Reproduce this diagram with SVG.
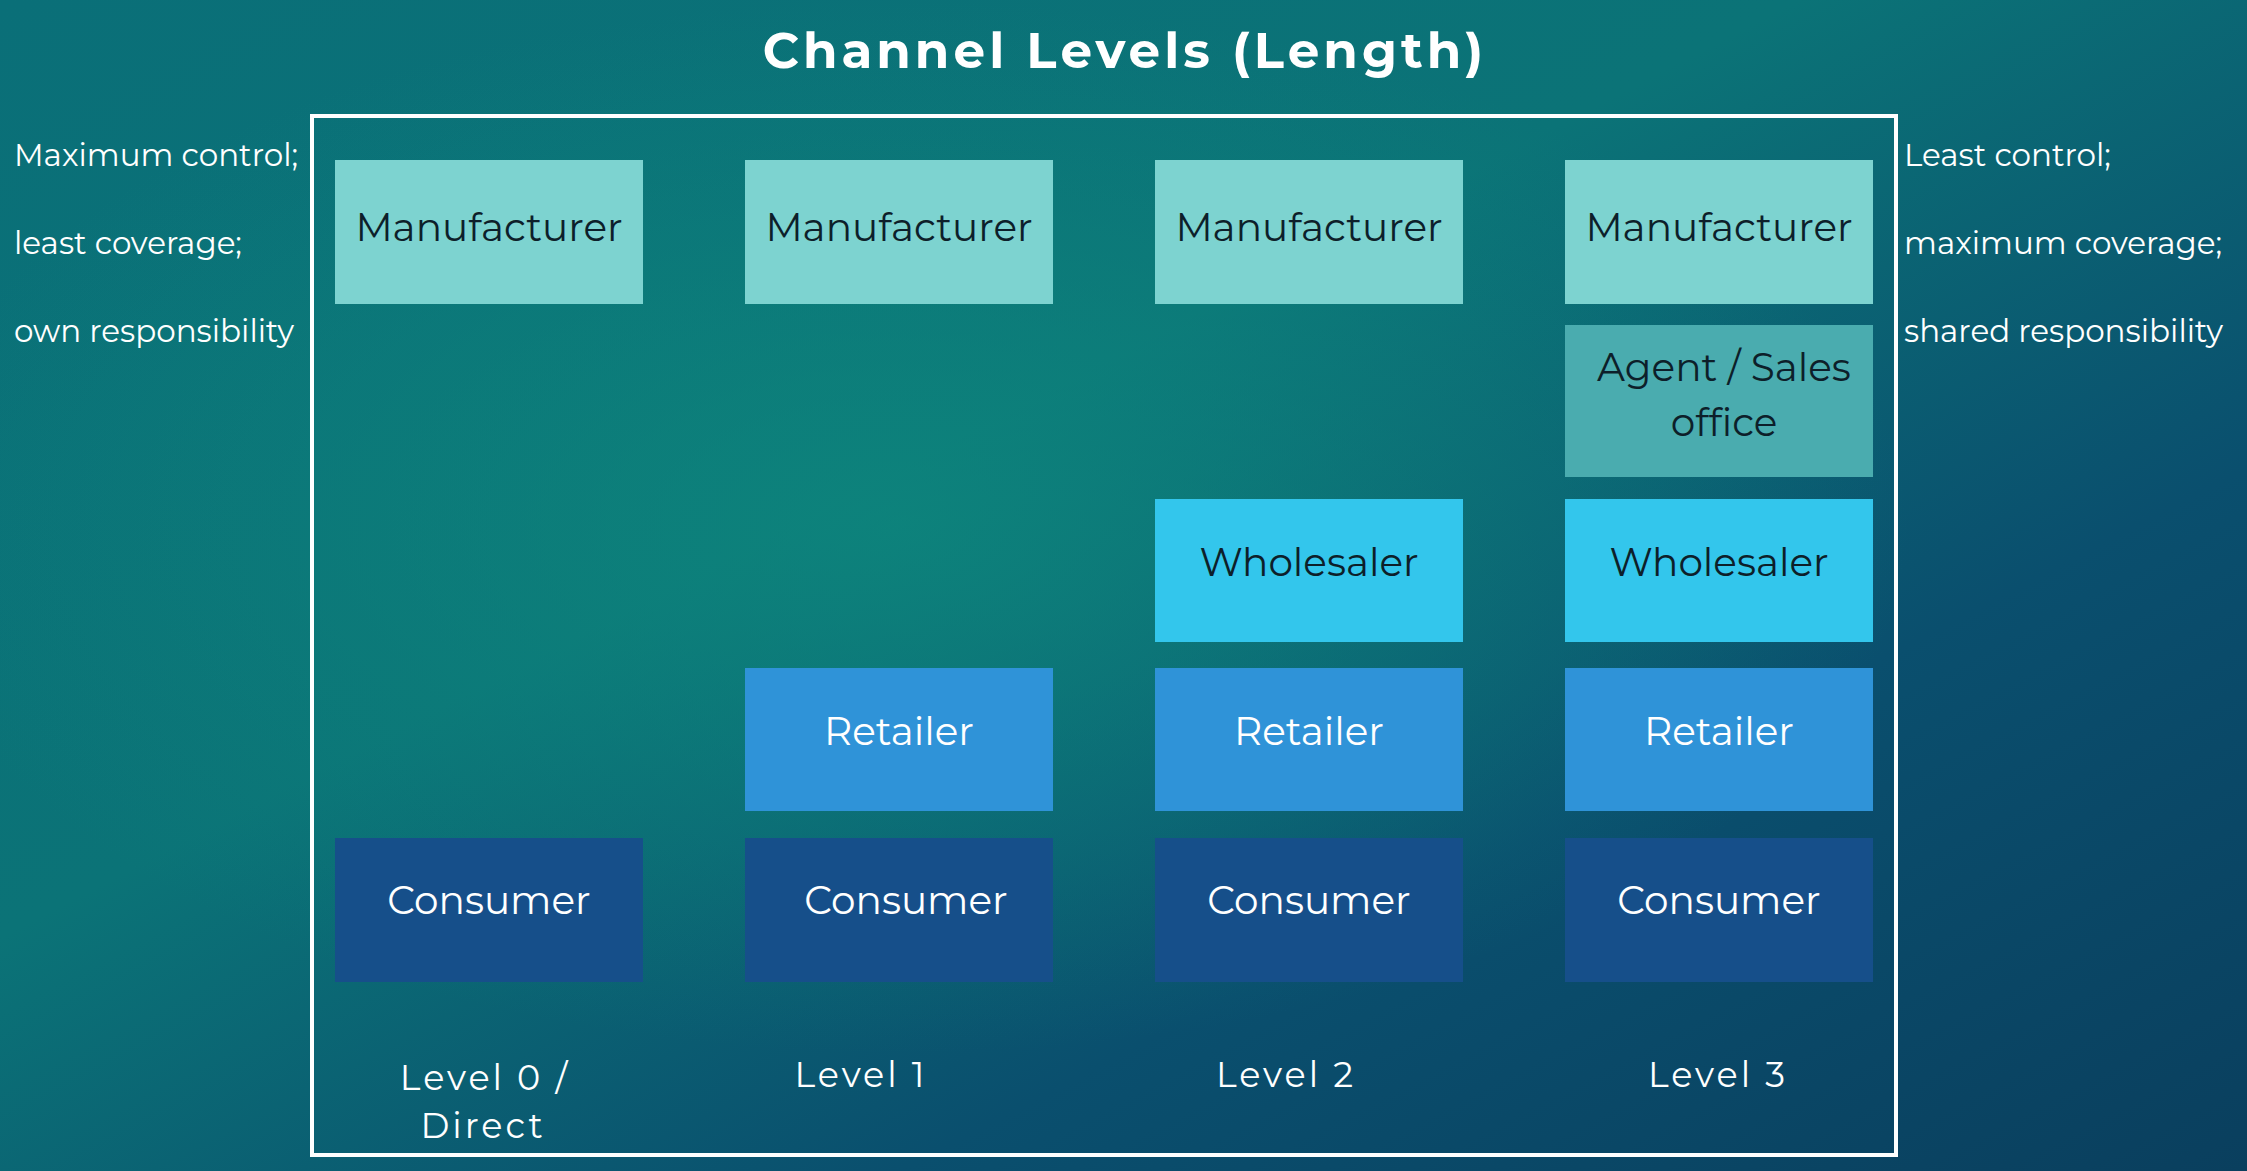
<svg xmlns="http://www.w3.org/2000/svg" width="2247" height="1171" viewBox="0 0 2247 1171">
<defs>
<linearGradient id="bg" x1="0" y1="0" x2="1" y2="1">
<stop offset="0" stop-color="#0a6f78"/>
<stop offset="0.4" stop-color="#0b7377"/>
<stop offset="0.7" stop-color="#0a4f6e"/>
<stop offset="1" stop-color="#0a3f5e"/>
</linearGradient>
<radialGradient id="glow" cx="0.4" cy="0.45" r="0.45">
<stop offset="0" stop-color="#0e8a7e" stop-opacity="0.7"/>
<stop offset="1" stop-color="#0e8a7e" stop-opacity="0"/>
</radialGradient>
<style>
.t{font-family:"Montserrat","Open Sans","Liberation Sans",sans-serif}
.bx{font-size:39px;text-anchor:middle;dominant-baseline:central}
.dk{fill:#0d1f2a}.wt{fill:#ffffff}
.side{font-size:31px;fill:#ffffff}
.lvl{font-size:35px;fill:#ffffff;text-anchor:middle;letter-spacing:3px}
</style>
</defs>
<rect width="2247" height="1171" fill="url(#bg)"/>
<rect width="2247" height="1171" fill="url(#glow)"/>
<text class="t" x="1125" y="68" font-size="50" font-weight="bold" fill="#fff" text-anchor="middle" letter-spacing="4">Channel Levels (Length)</text>
<rect x="312" y="116" width="1584" height="1039" fill="none" stroke="#fff" stroke-width="4"/>
<g id="side-left" class="t side">
<text x="14" y="166">Maximum control;</text>
<text x="14" y="254">least coverage;</text>
<text x="14" y="342">own responsibility</text>
</g>
<g id="side-right" class="t side">
<text x="1904" y="166">Least control;</text>
<text x="1904" y="254">maximum coverage;</text>
<text x="1904" y="342">shared responsibility</text>
</g>
<g id="m0"><rect x="335" y="160" width="308" height="144" fill="#7dd3d0"/><text class="t bx dk" x="489" y="227">Manufacturer</text></g>
<g id="m1"><rect x="745" y="160" width="308" height="144" fill="#7dd3d0"/><text class="t bx dk" x="899" y="227">Manufacturer</text></g>
<g id="m2"><rect x="1155" y="160" width="308" height="144" fill="#7dd3d0"/><text class="t bx dk" x="1309" y="227">Manufacturer</text></g>
<g id="m3"><rect x="1565" y="160" width="308" height="144" fill="#7dd3d0"/><text class="t bx dk" x="1719" y="227">Manufacturer</text></g>
<g id="a3"><rect x="1565" y="325" width="308" height="152" fill="#4aacaf"/><text class="t bx dk" x="1724" y="367">Agent / Sales</text><text class="t bx dk" x="1724" y="422">office</text></g>
<g id="w2"><rect x="1155" y="499" width="308" height="143" fill="#33c6ec"/><text class="t bx dk" x="1309" y="562">Wholesaler</text></g>
<g id="w3"><rect x="1565" y="499" width="308" height="143" fill="#33c6ec"/><text class="t bx dk" x="1719" y="562">Wholesaler</text></g>
<g id="r1"><rect x="745" y="668" width="308" height="143" fill="#2f93d8"/><text class="t bx wt" x="899" y="731">Retailer</text></g>
<g id="r2"><rect x="1155" y="668" width="308" height="143" fill="#2f93d8"/><text class="t bx wt" x="1309" y="731">Retailer</text></g>
<g id="r3"><rect x="1565" y="668" width="308" height="143" fill="#2f93d8"/><text class="t bx wt" x="1719" y="731">Retailer</text></g>
<g id="c0"><rect x="335" y="838" width="308" height="144" fill="#164f8a"/><text class="t bx wt" x="489" y="900">Consumer</text></g>
<g id="c1"><rect x="745" y="838" width="308" height="144" fill="#164f8a"/><text class="t bx wt" x="906" y="900">Consumer</text></g>
<g id="c2"><rect x="1155" y="838" width="308" height="144" fill="#164f8a"/><text class="t bx wt" x="1309" y="900">Consumer</text></g>
<g id="c3"><rect x="1565" y="838" width="308" height="144" fill="#164f8a"/><text class="t bx wt" x="1719" y="900">Consumer</text></g>
<g id="levels" class="t lvl">
<text x="485" y="1090">Level 0 /</text>
<text x="483" y="1138">Direct</text>
<text x="861" y="1087">Level 1</text>
<text x="1286" y="1087">Level 2</text>
<text x="1718" y="1087">Level 3</text>
</g>
<g id="connectors"></g>
</svg>
